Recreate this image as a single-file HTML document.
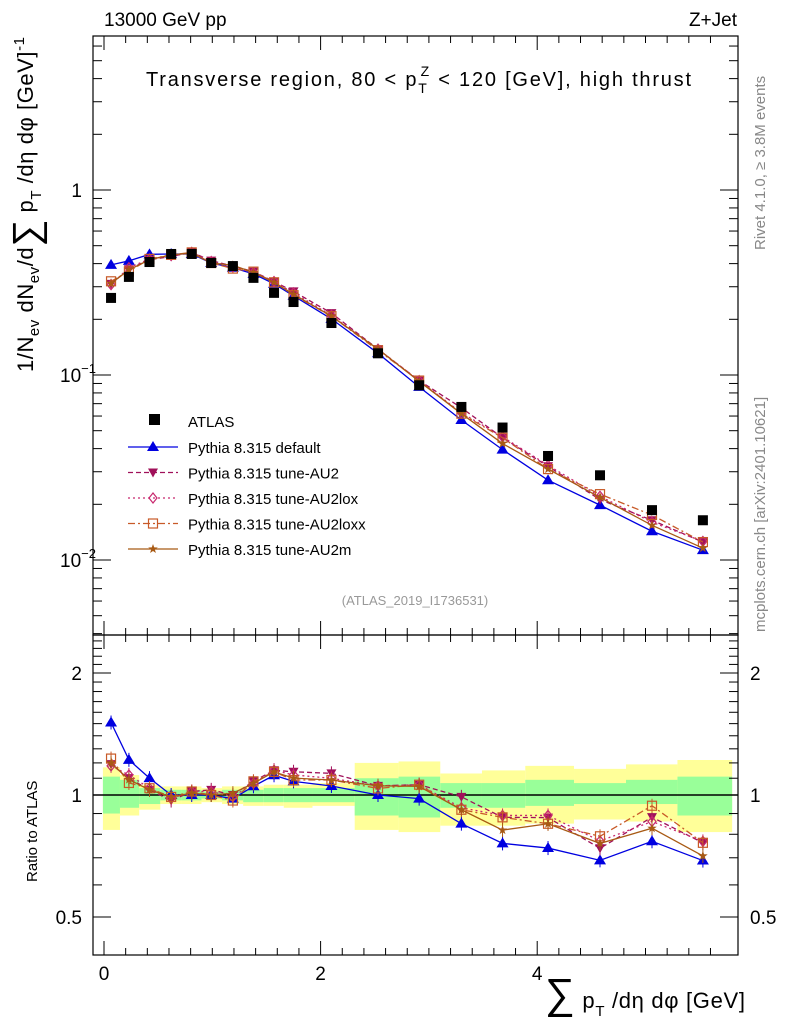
<!DOCTYPE html>
<html><head><meta charset="utf-8"><style>
body{margin:0;background:#fff;}
svg{display:block;font-family:"Liberation Sans",sans-serif;}
</style></head><body>
<svg id="c" width="786" height="1024" viewBox="0 0 786 1024"></svg>
<script>
const xs=[0.065,0.23,0.42,0.62,0.81,0.99,1.19,1.38,1.57,1.75,2.1,2.53,2.91,3.3,3.68,4.1,4.58,5.06,5.53];
const atlas=[0.261,0.339,0.408,0.451,0.451,0.403,0.388,0.335,0.278,0.248,0.191,0.131,0.088,0.0672,0.052,0.0365,0.0287,0.0186,0.0164];
const sDefault=[0.394,0.414,0.449,0.451,0.451,0.403,0.380,0.352,0.311,0.268,0.201,0.131,0.0862,0.0571,0.0395,0.0270,0.0198,0.0143,0.0113];
const sAU2=[0.311,0.373,0.420,0.437,0.460,0.415,0.388,0.362,0.320,0.283,0.216,0.138,0.0933,0.0665,0.0458,0.0321,0.0212,0.0164,0.0125];
const sAU2lox=[0.308,0.380,0.424,0.442,0.460,0.411,0.384,0.358,0.320,0.278,0.210,0.138,0.0933,0.0625,0.0463,0.0325,0.0221,0.0160,0.0126];
const sAU2loxx=[0.321,0.363,0.424,0.446,0.460,0.403,0.376,0.362,0.317,0.270,0.208,0.136,0.0933,0.0618,0.0458,0.0310,0.0227,0.0175,0.0125];
const sAU2m=[0.313,0.370,0.420,0.446,0.456,0.403,0.392,0.358,0.317,0.273,0.208,0.138,0.0924,0.0618,0.0426,0.0310,0.0218,0.0154,0.0116];
const yelLo=[0.82,0.89,0.92,0.95,0.95,0.96,0.95,0.94,0.94,0.93,0.94,0.82,0.81,0.84,0.84,0.85,0.87,0.86,0.81];
const yelHi=[1.17,1.12,1.06,1.05,1.05,1.04,1.05,1.05,1.06,1.06,1.07,1.20,1.21,1.13,1.15,1.18,1.16,1.19,1.22];
const grnLo=[0.90,0.93,0.95,0.97,0.97,0.98,0.97,0.96,0.96,0.96,0.96,0.89,0.88,0.93,0.93,0.94,0.95,0.95,0.89];
const grnHi=[1.11,1.09,1.04,1.03,1.03,1.02,1.03,1.03,1.04,1.04,1.04,1.10,1.11,1.07,1.07,1.09,1.07,1.09,1.11];
const xTicks=[0,2,4];
const rTicks=[0.5,1,2];

const NS="http://www.w3.org/2000/svg",svg=document.getElementById('c');
const L=93,R=738,T=36,MB=635,RB=955;
const X=v=>104+v*108.3;
const YM=v=>190-Math.log10(v)*185;
const YR=v=>795-Math.log2(v)*122;
function el(t,a,p){const e=document.createElementNS(NS,t);for(const k in a)e.setAttribute(k,a[k]);(p||svg).appendChild(e);return e;}
function txt(s,a,p){const e=el('text',a,p);e.textContent=s;return e;}

const edges=[-0.01];for(let i=0;i<xs.length-1;i++)edges.push((xs[i]+xs[i+1])/2);edges.push(5.8);
const gb=el('g',{});
for(let i=0;i<xs.length;i++){
 el('rect',{x:X(edges[i]),y:YR(yelHi[i]),width:X(edges[i+1])-X(edges[i]),height:YR(yelLo[i])-YR(yelHi[i]),fill:'#ffff99'},gb);
 el('rect',{x:X(edges[i]),y:YR(grnHi[i]),width:X(edges[i+1])-X(edges[i]),height:YR(grnLo[i])-YR(grnHi[i]),fill:'#99ff99'},gb);
}
el('line',{x1:L,x2:R,y1:YR(1),y2:YR(1),stroke:'#000','stroke-width':1.5});

el('rect',{x:L,y:T,width:R-L,height:MB-T,fill:'none',stroke:'#000','stroke-width':1.2});
el('rect',{x:L,y:MB,width:R-L,height:RB-MB,fill:'none',stroke:'#000','stroke-width':1.2});

for(let v=0;v<=5.8;v+=0.2){const big=Math.abs(v-Math.round(v/2)*2)<1e-6;const x=X(v);const l=big?14:7;
 for(const [y0,d] of [[MB,-1],[T,1],[RB,-1],[MB,1]])el('line',{x1:x,x2:x,y1:y0,y2:y0+d*l,stroke:'#000'});}
xTicks.forEach(v=>{const t=txt(String(v),{x:X(v),y:980,'font-size':19,'text-anchor':'middle'});});

for(let d=-3;d<=0;d++)for(let m=1;m<10;m++){const v=m*Math.pow(10,d);const y=YM(v);if(y<T||y>MB)continue;const l=m==1?18:9;
 el('line',{x1:L,x2:L+l,y1:y,y2:y,stroke:'#000'});el('line',{x1:R,x2:R-l,y1:y,y2:y,stroke:'#000'});}
txt('1',{x:82,y:197,'font-size':19,'text-anchor':'end'});
const t1=txt('10',{x:60,y:382,'font-size':19});el('tspan',{dy:-9,'font-size':13},t1).textContent='−1';
const t2=txt('10',{x:60,y:567,'font-size':19});el('tspan',{dy:-9,'font-size':13},t2).textContent='−2';

for(let v=0.4;v<=2.5;v+=0.1){const y=YR(v);if(y<MB||y>RB)continue;const big=[0.5,1,2].some(q=>Math.abs(q-v)<1e-6);const l=big?18:9;
 el('line',{x1:L,x2:L+l,y1:y,y2:y,stroke:'#000'});el('line',{x1:R,x2:R-l,y1:y,y2:y,stroke:'#000'});}
rTicks.forEach(v=>{const a=txt(String(v),{x:82,y:YR(v)+7,'font-size':19,'text-anchor':'end'});
 const b=txt(String(v),{x:750,y:YR(v)+7,'font-size':19});});

function marker(type,x,y,c,g){
 if(type=='sq')el('rect',{x:x-5,y:y-5,width:10,height:10,fill:'#000'},g);
 else if(type=='tri')el('polygon',{points:`${x},${y-6} ${x-6},${y+4} ${x+6},${y+4}`,fill:c},g);
 else if(type=='dtri')el('polygon',{points:`${x},${y+5} ${x-5},${y-4} ${x+5},${y-4}`,fill:c},g);
 else if(type=='dia')el('polygon',{points:`${x},${y-5} ${x-4},${y} ${x},${y+5} ${x+4},${y}`,fill:'none',stroke:c,'stroke-width':1.2},g);
 else if(type=='osq')el('rect',{x:x-4.5,y:y-4.5,width:9,height:9,fill:'none',stroke:c,'stroke-width':1.2},g);
 else if(type=='star'){let p=[];for(let k=0;k<10;k++){const r=k%2?2:5,a=-Math.PI/2+k*Math.PI/5;p.push((x+r*Math.cos(a)).toFixed(1)+','+(y+r*Math.sin(a)).toFixed(1));}el('polygon',{points:p.join(' '),fill:c},g);}
}
const series=[
 {d:sDefault,c:'#0000e0',m:'tri',dash:'',name:'Pythia 8.315 default',n:'series-default'},
 {d:sAU2,c:'#a0105a',m:'dtri',dash:'5,3',name:'Pythia 8.315 tune-AU2',n:'series-au2'},
 {d:sAU2lox,c:'#c8286e',m:'dia',dash:'2,3',name:'Pythia 8.315 tune-AU2lox',n:'series-au2lox'},
 {d:sAU2loxx,c:'#c85a28',m:'osq',dash:'7,3,2,3',name:'Pythia 8.315 tune-AU2loxx',n:'series-au2loxx'},
 {d:sAU2m,c:'#a85a14',m:'star',dash:'',name:'Pythia 8.315 tune-AU2m',n:'series-au2m'}];
series.forEach(s=>{
 const g=el('g',{});
 el('polyline',{points:xs.map((x,i)=>X(x)+','+YM(s.d[i])).join(' '),fill:'none',stroke:s.c,'stroke-width':1.3,'stroke-dasharray':s.dash},g);
 xs.forEach((x,i)=>marker(s.m,X(x),YM(s.d[i]),s.c,g));
 const g2=el('g',{});
 el('polyline',{points:xs.map((x,i)=>X(x)+','+YR(s.d[i]/atlas[i])).join(' '),fill:'none',stroke:s.c,'stroke-width':1.3,'stroke-dasharray':s.dash},g2);
 xs.forEach((x,i)=>{const y=YR(s.d[i]/atlas[i]);el('line',{x1:X(x),x2:X(x),y1:y-7,y2:y+7,stroke:s.c},g2);marker(s.m,X(x),y,s.c,g2);});
});
const ga=el('g',{});
xs.forEach((x,i)=>marker('sq',X(x),YM(atlas[i]),'#000',ga));

const lg=el('g',{});
el('rect',{x:149,y:414,width:11,height:11,fill:'#000'},lg);
txt('ATLAS',{x:188,y:427,'font-size':15},lg);
series.forEach((s,i)=>{const y=447+i*25.5;
 el('line',{x1:128,x2:178,y1:y,y2:y,stroke:s.c,'stroke-width':1.3,'stroke-dasharray':s.dash},lg);
 marker(s.m,153,y,s.c,lg);
 const t=txt(s.name,{x:188,y:y+6,'font-size':15},lg);});
</script>
<svg width="786" height="1024" style="position:absolute;left:0;top:0">
<text x="104" y="26" font-size="19">13000 GeV pp</text>
<text x="737" y="26" font-size="19" text-anchor="end">Z+Jet</text>
<text x="146" y="86" font-size="20" textLength="545" lengthAdjust="spacing">Transverse region, 80 &lt; p<tspan dy="7" font-size="14">T</tspan><tspan dy="-17" dx="-8" font-size="14">Z</tspan><tspan dy="10"> &lt; 120 [GeV], high thrust</tspan></text>
<text x="415" y="605" font-size="13" fill="#999" text-anchor="middle">(ATLAS_2019_I1736531)</text>
<text transform="translate(765,250) rotate(-90)" font-size="15" fill="#888">Rivet 4.1.0, ≥ 3.8M events</text>
<text transform="translate(765,632) rotate(-90)" font-size="15" fill="#888">mcplots.cern.ch [arXiv:2401.10621]</text>
<text transform="translate(33,372) rotate(-90)" font-size="22" textLength="335" lengthAdjust="spacing">1/N<tspan dy="6" font-size="15">ev</tspan><tspan dy="-6"> dN</tspan><tspan dy="6" font-size="15">ev</tspan><tspan dy="-6">/d</tspan><tspan font-size="38" dy="6">∑</tspan><tspan dy="-6"> p</tspan><tspan dy="8" font-size="15">T</tspan><tspan dy="-8"> /dη dφ  [GeV]</tspan><tspan dy="-9" font-size="15">-1</tspan></text>
<text transform="translate(37,882) rotate(-90)" font-size="15">Ratio to ATLAS</text>
<text x="545" y="1008" font-size="22" textLength="200" lengthAdjust="spacing"><tspan font-size="42">∑</tspan> p<tspan dy="8" font-size="15">T</tspan><tspan dy="-8"> /dη dφ [GeV]</tspan></text>
</svg>
</body></html>
